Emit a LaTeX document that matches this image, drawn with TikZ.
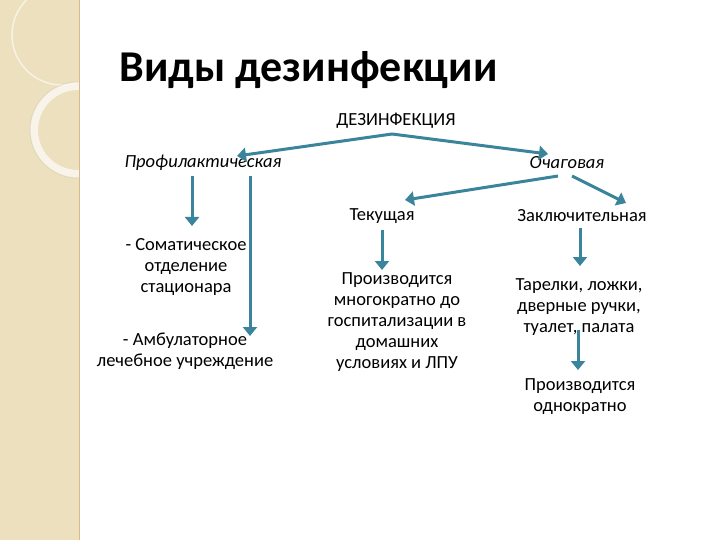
\documentclass[tikz,border=0pt]{standalone}
\usepackage{fontspec}
\setmainfont{Carlito}
\usetikzlibrary{arrows.meta}
\definecolor{arr}{RGB}{58,132,156}
\definecolor{beige}{RGB}{236,224,190}
\begin{document}
\begin{tikzpicture}[x=1pt,y=-1pt,
  ar/.style={draw=arr,line width=3pt,-{Triangle[length=9pt,width=14pt]}},
  txt/.style={font=\fontsize{18.5}{21}\selectfont,align=center,inner sep=1pt},
  itl/.style={txt,font=\fontsize{18.5}{21}\selectfont\itshape}]
\useasboundingbox (0,0) rectangle (720,540);
\fill[white] (0,0) rectangle (720,540);
\begin{scope}
\clip (0,0) rectangle (79,540);
\fill[beige] (0,0) rectangle (79,540);
\draw[white,opacity=0.6,line width=1.5pt] (62,35) circle (50);
\draw[white!85!beige,opacity=0.8,line width=8pt] (78,130) circle (44);
\draw[beige!85!black,opacity=0.4,line width=1pt] (78,130) circle (48);
\end{scope}
\draw[beige!60!brown,line width=1pt] (79,0) -- (79,540);
\node[font=\fontsize{44}{50}\selectfont\bfseries,anchor=west] (title) at (116,70) {Виды дезинфекции};
\node[txt] (dez) at (396,121) {ДЕЗИНФЕКЦИЯ};
\node[itl] (prof) at (203,163) {Профилактическая};
\node[itl] (och) at (567,163) {Очаговая};
\node[txt] (tek) at (382,216) {Текущая};
\node[txt] (zak) at (582,216) {Заключительная};
\node[txt] (som) at (186,267) {- Соматическое\\отделение\\стационара};
\node[txt] (amb) at (185,351) {- Амбулаторное\\лечебное учреждение};
\node[txt] (mnog) at (397,322) {Производится\\многократно до\\госпитализации в\\домашних\\условиях и ЛПУ};
\node[txt] (tar) at (579,307) {Тарелки, ложки,\\дверные ручки,\\туалет, палата};
\node[txt] (odn) at (580,397) {Производится\\однократно};
\draw[ar] (392,134) -- (237,156);
\draw[ar] (392,134) -- (548,154);
\draw[ar] (192,176) -- (192,226);
\draw[ar] (250,176) -- (250,336);
\draw[ar] (558,176) -- (405,200);
\draw[ar] (572,176) -- (626,203);
\draw[ar] (382,230) -- (382,270);
\draw[ar] (580,228) -- (580,266);
\draw[ar] (578,330) -- (578,370);
\end{tikzpicture}
\end{document}
